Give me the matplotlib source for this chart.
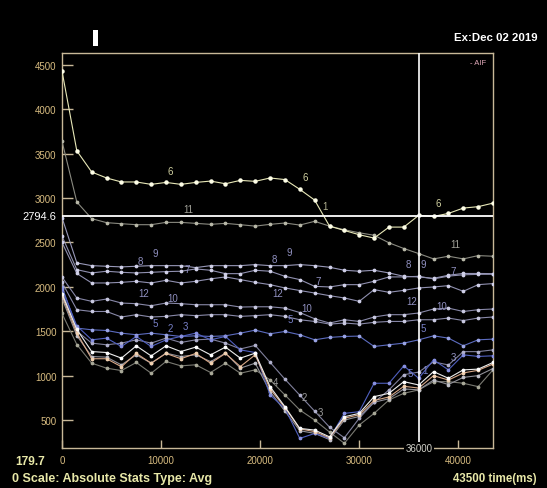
import numpy as np
import matplotlib
matplotlib.use("Agg")
import matplotlib.pyplot as plt
from matplotlib.patches import Rectangle

plt.rcParams['font.family'] = ['Liberation Sans', 'DejaVu Sans']

# sample times (ms), one point every 1500 ms
time_ms = np.arange(0, 43501, 1500)

# series values
s6 = [4430, 3530, 3292, 3225, 3180, 3180, 3153, 3175, 3153, 3175, 3190, 3160, 3198, 3187, 3225,
      3207, 3097, 2976, 2683, 2634, 2586, 2548, 2672, 2672, 2804, 2792, 2826, 2886, 2902, 2942]
s11 = [3640, 2954, 2767, 2722, 2710, 2699, 2699, 2725, 2725, 2714, 2703, 2714, 2699, 2683, 2703,
       2718, 2695, 2737, 2683, 2642, 2608, 2580, 2495, 2431, 2374, 2314, 2344, 2314, 2351, 2344]
s8 = [2780, 2269, 2238, 2231, 2224, 2231, 2238, 2238, 2238, 2216, 2238, 2238, 2238, 2250, 2238,
      2238, 2250, 2238, 2220, 2186, 2175, 2186, 2156, 2118, 2111, 2095, 2130, 2150, 2150, 2148]
s9 = [2570, 2193, 2156, 2175, 2163, 2156, 2163, 2171, 2175, 2201, 2186, 2148, 2148, 2186, 2175,
      2118, 2081, 2005, 1998, 2024, 2024, 2062, 2111, 2111, 2118, 2089, 2120, 2135, 2140, 2141]
s7 = [2500, 2150, 2043, 2043, 2050, 2062, 2043, 2073, 2043, 2062, 2089, 2111, 2081, 2050, 2024,
      1987, 1958, 1930, 1900, 1874, 1836, 1968, 1938, 1960, 1987, 1998, 2013, 1949, 2024, 2036]
s12 = [2110, 1874, 1836, 1862, 1817, 1810, 1787, 1817, 1810, 1798, 1798, 1798, 1772, 1775, 1775,
       1760, 1710, 1640, 1592, 1629, 1610, 1660, 1686, 1686, 1705, 1750, 1760, 1722, 1742, 1750]
s10 = [2050, 1742, 1722, 1722, 1660, 1686, 1660, 1667, 1686, 1675, 1686, 1686, 1667, 1675, 1686,
       1667, 1629, 1610, 1580, 1592, 1580, 1600, 1610, 1610, 1629, 1629, 1648, 1620, 1648, 1660]
s5 = [2000, 1535, 1516, 1508, 1478, 1460, 1478, 1460, 1441, 1448, 1441, 1448, 1478, 1512, 1471,
      1497, 1460, 1403, 1430, 1441, 1445, 1328, 1347, 1366, 1403, 1448, 1422, 1336, 1403, 1411]
s_blue = [1980, 1560, 1403, 1422, 1328, 1441, 1328, 1403, 1441, 1478, 1403, 1441, 1290, 1260, 782,
          632, 293, 349, 293, 575, 594, 914, 914, 1110, 970, 1177, 1065, 1234, 1216, 1223]
s_grey1 = [1950, 1500, 1366, 1347, 1366, 1403, 1366, 1422, 1373, 1403, 1411, 1366, 1300, 1340, 1150,
           960, 780, 600, 420, 300, 520, 700, 839, 1010, 1040, 1155, 1120, 1270, 1270, 1290]
s_white = [1920, 1520, 1271, 1260, 1197, 1335, 1222, 1335, 1271, 1321, 1234, 1321, 1197, 1253, 876,
           650, 406, 387, 311, 537, 575, 763, 801, 932, 895, 1045, 970, 1065, 1073, 1148]
s_peach = [1900, 1480, 1190, 1190, 1100, 1250, 1140, 1250, 1190, 1250, 1140, 1250, 1102, 1234, 850,
           640, 400, 370, 300, 520, 560, 720, 760, 880, 860, 1000, 950, 1030, 1060, 1130]
s_grey2 = [1870, 1450, 1215, 1208, 1121, 1234, 1140, 1253, 1215, 1234, 1158, 1253, 1084, 1140, 820,
           600, 380, 350, 280, 500, 540, 700, 740, 850, 840, 950, 900, 980, 1000, 1080]
s_grey3 = [1700, 1350, 1140, 1084, 1057, 1148, 1027, 1159, 1110, 1122, 1035, 1140, 1027, 1065, 952,
           782, 613, 500, 365, 238, 444, 575, 726, 801, 839, 932, 932, 914, 876, 1065]

series = [
    (s11, '#8a8a80', '#b8b8a8'),
    (s8, '#9898b8', '#d0d0e8'),
    (s9, '#9090b0', '#d0d0e8'),
    (s7, '#9090b0', '#d0d0e8'),
    (s12, '#8888a8', '#c8c8e0'),
    (s10, '#8888a8', '#c8c8e0'),
    (s5, '#5c6cc0', '#9aa4e4'),
    (s_grey3, '#7a7a72', '#a8a898'),
    (s_grey2, '#909098', '#c0c0c8'),
    (s_grey1, '#80809c', '#b0b0cc'),
    (s_blue, '#5060c0', '#8890e0'),
    (s_peach, '#d8a888', '#f0d0b0'),
    (s_white, '#ececec', '#ffffff'),
    (s6, '#e8e8b8', '#ffffe8'),
]

# series labels: (text, time, value, colour)
labels = [
    ('6', 10900, 3300, '#d0d0a0'), ('6', 24520, 3232, '#d0d0a0'), ('1', 26540, 2905, '#b0b090'),
    ('6', 37940, 2940, '#d0d0a0'), ('11', 12700, 2880, '#a0a098'), ('11', 39660, 2485, '#a0a098'),
    ('8', 7870, 2295, '#9090c0'), ('9', 9380, 2382, '#9090c0'), ('7', 12600, 2205, '#9090c0'),
    ('8', 21400, 2318, '#9090c0'), ('9', 22900, 2389, '#9090c0'), ('8', 35000, 2258, '#9090c0'),
    ('9', 36430, 2261, '#9090c0'), ('7', 25830, 2062, '#9090c0'), ('7', 39460, 2174, '#9090c0'),
    ('12', 8200, 1930, '#9090c0'), ('12', 21800, 1930, '#9090c0'), ('12', 35300, 1836, '#9090c0'),
    ('10', 11200, 1877, '#9090c0'), ('10', 24720, 1761, '#9090c0'), ('10', 38340, 1779, '#9090c0'),
    ('5', 9400, 1592, '#7880c8'), ('5', 23000, 1637, '#7880c8'), ('5', 36430, 1535, '#7880c8'),
    ('2', 10900, 1535, '#7880c8'), ('3', 12410, 1561, '#7880c8'),
    ('4', 21500, 932, '#9a9a9a'), ('2', 24420, 756, '#9a9a9a'), ('3', 26030, 594, '#9a9a9a'),
    ('5', 35100, 1030, '#7880c8'), ('1', 36600, 1065, '#7880c8'), ('3', 39460, 1208, '#9090c0'),
]

y_ticks = [500, 1000, 1500, 2000, 2500, 3000, 3500, 4000, 4500]
x_ticks = [0, 10000, 20000, 30000, 40000]
cursor_value = 2794.6
cursor_time = 36000
y_min = 179.7
t_max = 43500

frame = '#c8b898'
tick_col = '#d8bc80'
foot_col = '#e8e8a8'

fig = plt.figure(figsize=(5.47, 4.89), dpi=100, facecolor='black')
ax = fig.add_axes([0.1133, 0.0808, 0.788, 0.8088], facecolor='black')

for vals, lc, mc in series:
    ms = 2.2 if vals is s6 else 1.7
    ax.plot(time_ms, vals, color=lc, lw=0.8, marker='o', ms=ms,
            mfc=mc, mec=mc, zorder=3)

for txt, t, v, c in labels:
    ax.text(t, v, txt, color=c, fontsize=7, ha='center', va='center', zorder=4)

ax.axhline(cursor_value, color='white', lw=1.3, zorder=5)
ax.axvline(cursor_time, color='white', lw=1.2, zorder=5)

ax.set_xlim(0, t_max)
ax.set_ylim(y_min, 4632)
ax.set_yticks(y_ticks)
ax.set_yticklabels([str(v) for v in y_ticks])
ax.set_xticks(x_ticks)
ax.set_xticklabels([str(v) for v in x_ticks])
ax.tick_params(axis='y', direction='in', length=8, width=1, color=frame,
               labelcolor=tick_col, labelsize=7, pad=4)
ax.tick_params(axis='x', direction='in', length=6, width=1, color=frame,
               labelcolor=tick_col, labelsize=7, pad=5)
for sp in ax.spines.values():
    sp.set_color(frame)
    sp.set_linewidth(1)

ax.text(-0.012, cursor_value, '2794.6', color='white', fontsize=8,
        ha='right', va='center', transform=ax.get_yaxis_transform())
ax.text(cursor_time, 0, '36000', color='#d0d0c8', fontsize=7, ha='center', va='center',
        transform=ax.get_xaxis_transform(),
        bbox=dict(facecolor='black', edgecolor='none', pad=1), zorder=6)
ax.text(0.985, 0.985, '- AIF', color='#e0a8b8', fontsize=5.5, ha='right', va='top',
        transform=ax.transAxes)

fig.text(0.982, 0.923, 'Ex:Dec 02 2019', color='white', fontsize=8.2, fontweight='bold',
         ha='right', va='center')
fig.patches.append(Rectangle((93 / 547, 1 - 47 / 489), 5 / 547, 16 / 489,
                             transform=fig.transFigure, facecolor='white', edgecolor='none'))
fig.text(15 / 547, 1 - 462 / 489, '179.7', color=foot_col, fontsize=8.6, fontweight='bold',
         ha='left', va='center')
fig.text(12 / 547, 1 - 479 / 489, '0 Scale: Absolute Stats Type: Avg', color=foot_col,
         fontsize=9, fontweight='bold', ha='left', va='center')
fig.text(537 / 547, 1 - 479 / 489, '43500 time(ms)', color=foot_col, fontsize=8.3,
         fontweight='bold', ha='right', va='center')

fig.savefig('out.png', dpi=100, facecolor='black')
